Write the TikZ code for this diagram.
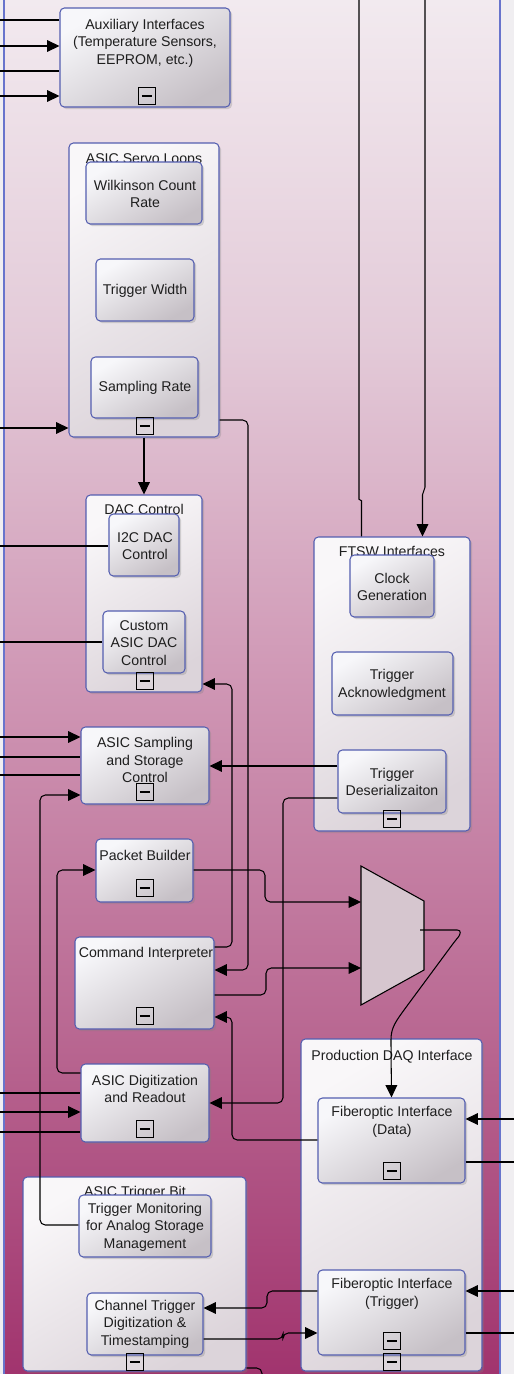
\documentclass[tikz,border=0pt]{standalone}
\usepackage{fontspec}
\setmainfont{Liberation Sans}
\usepackage{tikz}
\usetikzlibrary{arrows.meta}
\usetikzlibrary{fit}
\usetikzlibrary{shadows}
\definecolor{edgeblue}{RGB}{84,94,176}
\definecolor{frameblue}{RGB}{104,116,204}
\definecolor{boxhi}{RGB}{247,247,250}
\definecolor{boxlo}{RGB}{198,192,198}
\definecolor{grphi}{RGB}{249,247,249}
\definecolor{grplo}{RGB}{220,212,218}
\definecolor{muxgray}{RGB}{214,198,207}
\definecolor{pagebg}{RGB}{240,238,241}
\definecolor{txtgray}{RGB}{30,30,30}
\definecolor{bgtop}{RGB}{242,234,239}
\definecolor{bgqa}{RGB}{227,202,216}
\definecolor{bgmid}{RGB}{207,150,180}
\definecolor{bgqb}{RGB}{185,104,146}
\definecolor{bgbot}{RGB}{161,52,110}
\pgfdeclareverticalshading{bgshade}{100bp}{color(0bp)=(bgbot); color(25bp)=(bgbot); color(37.5bp)=(bgqb); color(50bp)=(bgmid); color(62.5bp)=(bgqa); color(75bp)=(bgtop); color(100bp)=(bgtop)}
\tikzset{>={Triangle[length=7pt,width=6.6pt]}}

\begin{document}
\begin{tikzpicture}[x=0.02cm,y=-0.02cm,
	blk/.style={draw=edgeblue,line width=0.6pt,rounded corners=2.5pt,top color=boxhi,bottom color=boxlo,shading angle=30,
		drop shadow={opacity=0.3,shadow xshift=1.2pt,shadow yshift=-1.2pt},inner sep=0pt},
	grp/.style={blk,top color=grphi,bottom color=grplo,shading angle=30},
	txt/.style={text=txtgray,align=center,inner sep=0pt,font=\fontsize{8.05}{9.9}\selectfont},
	minbox/.style={draw=black,line width=0.6pt,minimum size=3.4mm,inner sep=0pt,
		path picture={\draw[line width=0.6pt] ([xshift=0.65mm]path picture bounding box.west) -- ([xshift=-0.65mm]path picture bounding box.east);}},
	wire/.style={draw=black,line width=0.6pt,rounded corners=3pt}]
	\useasboundingbox (0,0) rectangle (514,1374);
	\clip (0,0) rectangle (514,1374);
	% page and outer subsystem
	\fill[pagebg] (0,0) rectangle (514,1374);
	\shade[shading=bgshade] (4,0) rectangle (500,1374);
	\draw[frameblue,line width=0.9pt] (4,0) -- (4,1374) (500,0) -- (500,1374);
	% groups
	\node[grp,fit={(69,143) (219,437)}] (servo) {};
	\node[txt,anchor=base] (servoTtl) at (144,163) {ASIC Servo Loops};
	\node[grp,fit={(86,495) (202,692)}] (dac) {};
	\node[txt,anchor=base] (dacTtl) at (144,514) {DAC Control};
	\node[grp,fit={(314,537) (470,831)}] (ftsw) {};
	\node[txt,anchor=base] (ftswTtl) at (392,556) {FTSW Interfaces};
	\node[grp,fit={(301,1039) (482,1371)}] (pdaq) {};
	\node[txt,anchor=base] (pdaqTtl) at (392,1060) {Production DAQ Interface};
	\node[grp,fit={(23,1177) (246,1371)}] (atb) {};
	\node[txt,anchor=base] (atbTtl) at (135,1196) {ASIC Trigger Bit};
	% blocks
	\node[blk,fit={(60,8) (230,107)}] (aux) {};
	\node[txt] (auxTxt) at (145,43) {Auxiliary Interfaces\\(Temperature Sensors,\\EEPROM, etc.)};
	\node[blk,fit={(86,162) (202,224)}] (wilk) {};
	\node[txt] (wilkTxt) at (145,194) {Wilkinson Count\\Rate};
	\node[blk,fit={(96,259) (194,321)}] (twid) {};
	\node[txt] (twidTxt) at (145,291) {Trigger Width};
	\node[blk,fit={(91,357) (198,418)}] (srate) {};
	\node[txt] (srateTxt) at (145,388) {Sampling Rate};
	\node[blk,fit={(109,514) (179,576)}] (i2c) {};
	\node[txt] (i2cTxt) at (145,546) {I2C DAC\\Control};
	\node[blk,fit={(103,611) (185,673)}] (cdac) {};
	\node[txt] (cdacTxt) at (144,643) {Custom\\ASIC DAC\\Control};
	\node[blk,fit={(81,727) (209,804)}] (samp) {};
	\node[txt] (sampTxt) at (145,760) {ASIC Sampling\\and Storage\\Control};
	\node[blk,fit={(350,555) (434,617)}] (clk) {};
	\node[txt] (clkTxt) at (392,587) {Clock\\Generation};
	\node[blk,fit={(332,652) (453,715)}] (tack) {};
	\node[txt] (tackTxt) at (392,685) {Trigger\\Acknowledgment};
	\node[blk,fit={(338,750) (446,813)}] (tdes) {};
	\node[txt] (tdesTxt) at (392,782) {Trigger\\Deserializaiton};
	\node[blk,fit={(96,839) (193,902)}] (pb) {};
	\node[txt,anchor=base] (pbTxt) at (145,860) {Packet Builder};
	\node[blk,fit={(75,937) (214,1029)}] (ci) {};
	\node[txt,anchor=base] (ciTxt) at (146,957) {Command Interpreter};
	\node[blk,fit={(81,1064) (209,1142)}] (adr) {};
	\node[txt] (adrTxt) at (145,1089) {ASIC Digitization\\and Readout};
	\node[blk,fit={(318,1098) (465,1183)}] (fod) {};
	\node[txt] (fodTxt) at (392,1122) {Fiberoptic Interface\\(Data)};
	\node[blk,fit={(318,1270) (465,1355)}] (fot) {};
	\node[txt] (fotTxt) at (392,1294) {Fiberoptic Interface\\(Trigger)};
	\node[blk,fit={(79,1195) (211,1257)}] (tmon) {};
	\node[txt] (tmonTxt) at (145,1227) {Trigger Monitoring\\for Analog Storage\\Management};
	\node[blk,fit={(87,1293) (203,1355)}] (ctd) {};
	\node[txt] (ctdTxt) at (145,1324) {Channel Trigger\\Digitization \&\\Timestamping};
	% collapse marks
	\node[minbox] (auxMin) at (147,96) {};
	\node[minbox] (servoMin) at (145,426) {};
	\node[minbox] (dacMin) at (145,681) {};
	\node[minbox] (sampMin) at (145,792) {};
	\node[minbox] (ftswMin) at (392,819) {};
	\node[minbox] (pbMin) at (145,888) {};
	\node[minbox] (ciMin) at (145,1016) {};
	\node[minbox] (adrMin) at (145,1129) {};
	\node[minbox] (fodMin) at (392,1171) {};
	\node[minbox] (fotMin) at (392,1341) {};
	\node[minbox] (pdaqMin) at (392,1362) {};
	\node[minbox] (atbMin) at (135,1362) {};
	% multiplexer
	\filldraw[fill=muxgray,draw=black,line width=0.6pt] (361,866) -- (424,901) -- (424,970) -- (361,1005) -- cycle;
	\coordinate (muxin1) at (361,902);
	\coordinate (muxin2) at (361,968);
	\coordinate (muxout) at (420,930);
	% wires from the left edge
	\foreach \yy/\tgt in {20/aux,71/aux,546/i2c,642/cdac,757/samp,775/samp,1093/adr,1132/adr}
		{\coordinate (inL\yy) at (0,\yy); \draw[wire] (inL\yy) -- (inL\yy -| \tgt.west);}
	\foreach \yy/\tgt in {46/aux,96/aux,428/servo,737/samp,1112/adr}
		{\coordinate (inL\yy) at (0,\yy); \draw[wire,->] (inL\yy) -- (inL\yy -| \tgt.west);}
	% wires to the right edge
	\foreach \yy/\src in {1162/fod,1333/fot}
		{\coordinate (outR\yy) at (514,\yy); \draw[wire] (outR\yy -| \src.east) -- (outR\yy);}
	\foreach \yy/\src in {1119/fod,1291/fot}
		{\coordinate (outR\yy) at (514,\yy); \draw[wire,->] (outR\yy) -- (outR\yy -| \src.east);}
	% wires from the top edge
	\coordinate (topA) at (359,0);
	\coordinate (topB) at (425,0);
	\draw[wire] (topA) -- (359,494) .. controls (359,500) and (361.5,500) .. (361.5,506) -- (ftsw.north -| 361.5,0);
	\draw[wire,->] (topB) -- (425,482) .. controls (425,490) and (422.5,492) .. (422.5,500) -- (ftsw.north -| 422.5,0);
	% internal wires
	\draw[wire,->] (servo.south) -- (dac.north);
	\draw[wire,->] (servo.east |- 0,420) -- (248,420) -- (248,970) -- (ci.east |- 0,970);
	\draw[wire,->] (ci.east |- 0,947) -- (232,947) -- (232,684) -- (dac.east |- 0,684);
	\draw[wire,->] (fod.west |- 0,1140) -- (232,1140) -- (232,1017) -- (ci.east |- 0,1017);
	\draw[wire,->] (tdes.west |- 0,766) -- (samp.east |- 0,766);
	\draw[wire,->] (tdes.west |- 0,798) -- (283,798) -- (283,1103) -- (adr.east |- 0,1103);
	\draw[wire,->] (tmon.west |- 0,1225) -- (40,1225) -- (40,795) -- (samp.west |- 0,795);
	\draw[wire,->] (adr.west |- 0,1073) -- (57,1073) -- (57,870) -- (pb.west |- 0,870);
	\draw[wire,->] (pb.east |- 0,870) -- (265,870) -- (265,902) -- (muxin1);
	\draw[wire,->] (ci.east |- 0,995) -- (266,995) -- (266,968) -- (muxin2);
	\draw[wire,->] (muxout) -- (452,930) .. controls (462,930) and (460,935) .. (455,941) -- (404,1010)
		.. controls (394,1024) and (391,1030) .. (391,1045) -- (fod.north);
	\draw[wire,->] (fot.west |- 0,1291) -- (267,1291) -- (267,1308) -- (ctd.east |- 0,1308);
	\draw[wire,->] (ctd.east |- 0,1339) -- (283,1339) -- (283,1333) -- (fot.west |- 0,1333);
	\draw[wire] (atb.east |- 0,1368) -- (262,1368) -- (262,1380);
\end{tikzpicture}
\end{document}
